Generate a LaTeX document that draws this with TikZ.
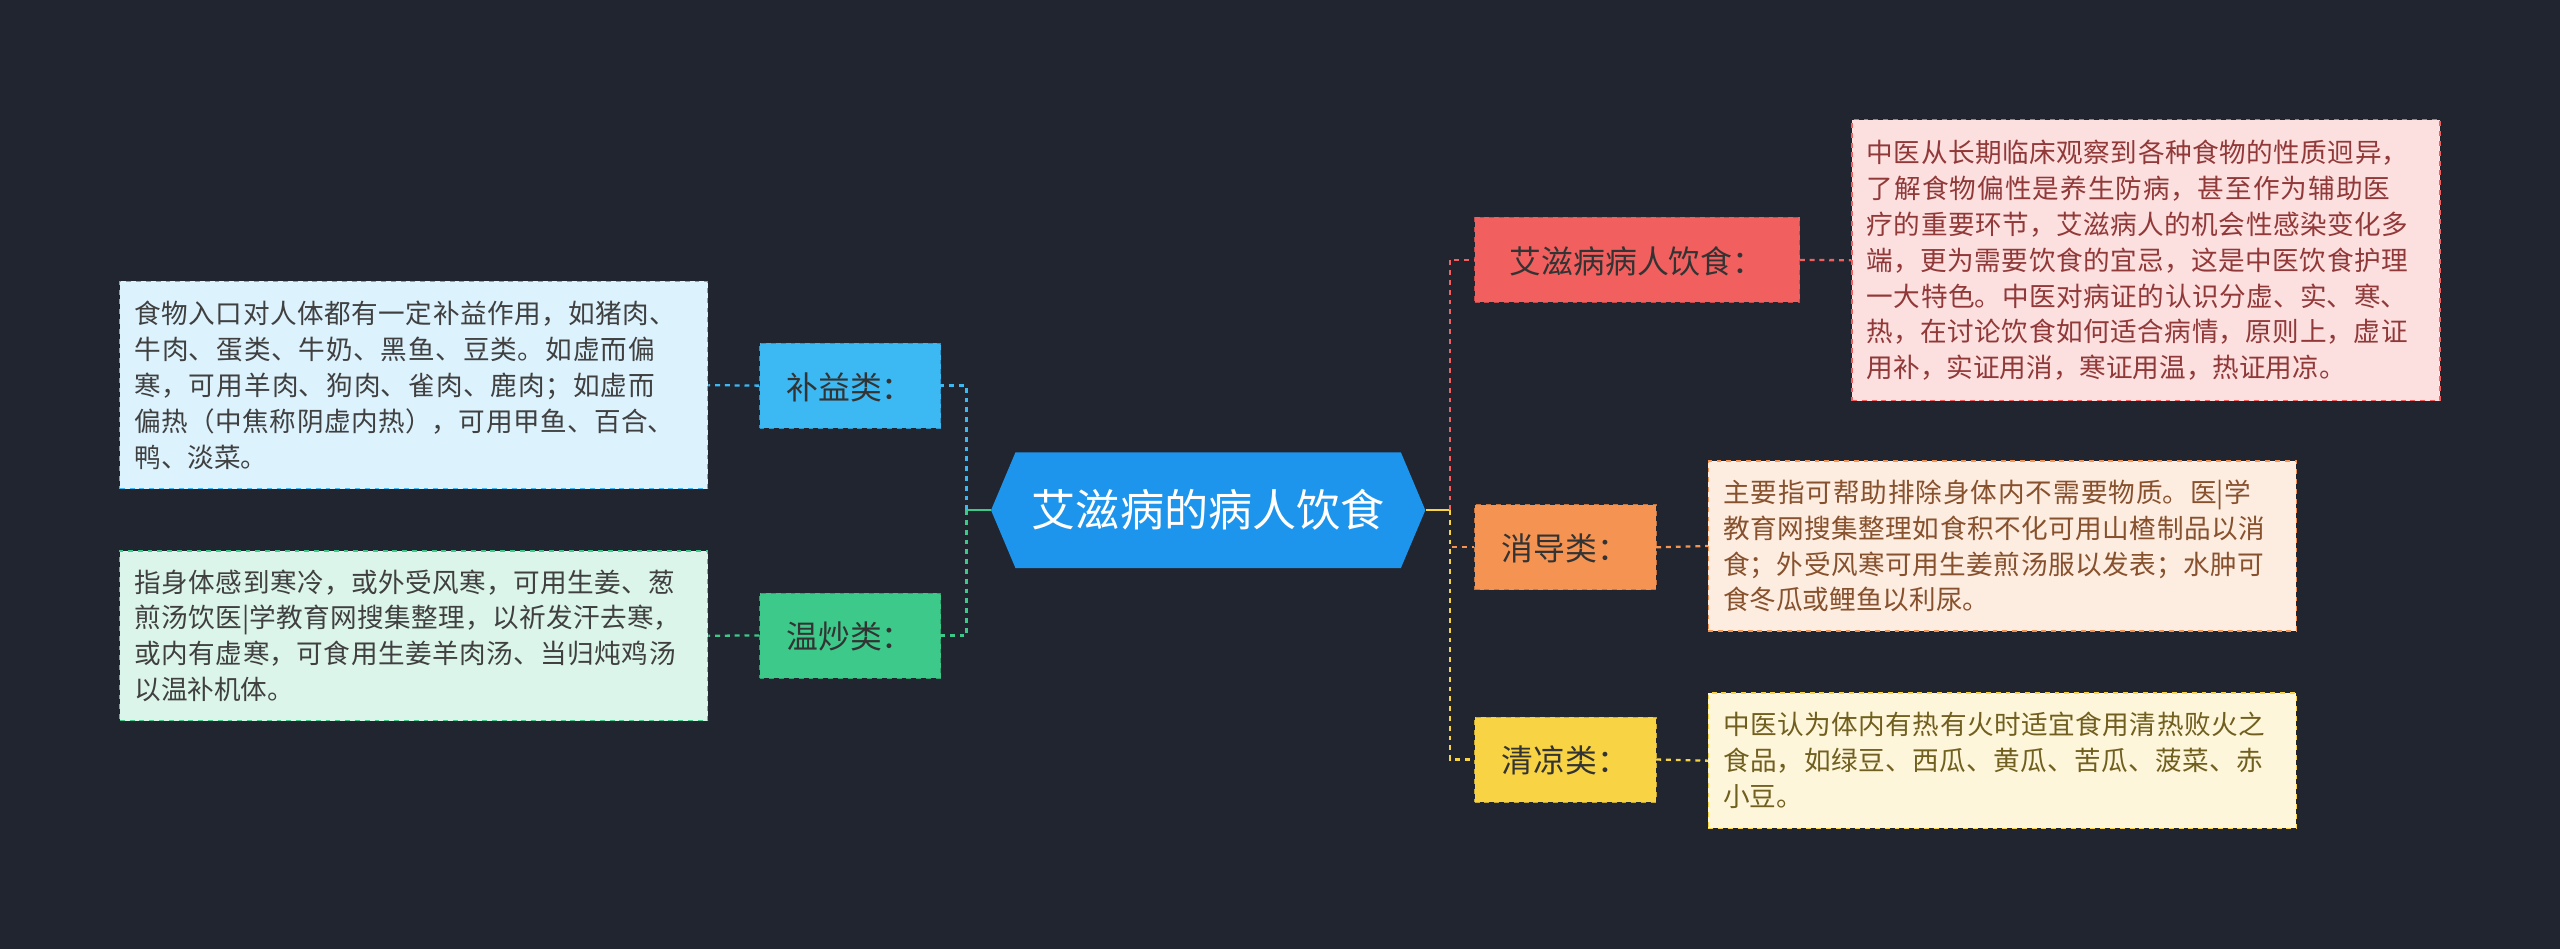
\documentclass[tikz,border=0pt]{standalone}
\usepackage{fontspec}
\setmainfont{Noto Sans CJK SC}
\XeTeXlinebreaklocale "zh"
\XeTeXlinebreakskip=0pt plus 1pt
\begin{document}
\begin{tikzpicture}[x=1pt,y=-1pt,
 topic/.style={draw=#1!80!black,dashed,fill=#1,minimum height=52pt,inner xsep=11pt,inner ysep=0pt,font=\fontsize{19.5}{22}\selectfont,text=black!80,anchor=north west,text depth=0pt},
 txt/.style={draw=#1,dashed,line width=0.8pt,inner xsep=9pt,inner ysep=8pt,anchor=north west,align=left,font=\fontsize{16.3}{22}\selectfont},
 con/.style={draw=#1,dashed,line width=1.4pt}]
\definecolor{bg}{HTML}{212530}
\definecolor{cb}{HTML}{1E95EC}
\definecolor{lb}{HTML}{3CB8F2}\definecolor{lg}{HTML}{3CC98A}
\definecolor{rr}{HTML}{F25F5F}\definecolor{oo}{HTML}{F59452}\definecolor{yy}{HTML}{F8D444}
\fill[bg] (0,0) rectangle (1568,581);
\useasboundingbox (0,0) rectangle (1568,581);
% center
\fill[cb] (622,277) -- (858,277) -- (873,312.5) -- (858,348) -- (622,348) -- (607,312.5) -- cycle;
\node[inner sep=0pt,minimum width=266pt,minimum height=71pt] (c) at (740,312.5) {\fontsize{27}{30}\selectfont\color{white}艾滋病的病人饮食};
% topics
\node[topic=lb,minimum width=111pt] (t1) at (465,210) {补益类：};
\node[topic=lg,minimum width=111pt] (t2) at (465,363) {温炒类：};
\node[topic=rr,minimum width=199pt] (t3) at (903,133) {艾滋病病人饮食：};
\node[topic=oo,minimum width=111pt] (t4) at (903,309) {消导类：};
\node[topic=yy,minimum width=111pt] (t5) at (903,439) {清凉类：};
% texts
\node[txt=lb,fill=lb!18,text=black!75,text width=342pt,minimum height=127pt] (x1) at (73,172) {食物入口对人体都有一定补益作用，如猪肉、牛肉、蛋类、牛奶、黑鱼、豆类。如虚而偏寒，可用羊肉、狗肉、雀肉、鹿肉；如虚而偏热（中焦称阴虚内热），可用甲鱼、百合、鸭、淡菜。};
\node[txt=lg,fill=lg!18,text=black!75,text width=342pt,minimum height=104pt] (x2) at (73,337) {指身体感到寒冷，或外受风寒，可用生姜、葱煎汤饮医|学教育网搜集整理，以祈发汗去寒，或内有虚寒，可食用生姜羊肉汤、当归炖鸡汤以温补机体。};
\node[txt=rr,fill=rr!20,text=rr!60!black,text width=342pt,minimum height=172pt] (x3) at (1134,73) {中医从长期临床观察到各种食物的性质迥异，了解食物偏性是养生防病，甚至作为辅助医疗的重要环节，艾滋病人的机会性感染变化多端，更为需要饮食的宜忌，这是中医饮食护理一大特色。中医对病证的认识分虚、实、寒、热，在讨论饮食如何适合病情，原则上，虚证用补，实证用消，寒证用温，热证用凉。};
\node[txt=oo,fill=oo!18,text=oo!55!black,text width=342pt,minimum height=104pt] (x4) at (1046,282) {主要指可帮助排除身体内不需要物质。医|学教育网搜集整理如食积不化可用山楂制品以消食；外受风寒可用生姜煎汤服以发表；水肿可食冬瓜或鲤鱼以利尿。};
\node[txt=yy,fill=yy!20,text=yy!45!black,text width=342pt,minimum height=83pt] (x5) at (1046,424) {中医认为体内有热有火时适宜食用清热败火之食品，如绿豆、西瓜、黄瓜、苦瓜、菠菜、赤小豆。};
% connectors
\coordinate (lj) at (592,312.5); \coordinate (rj) at (888,312.5);
\draw[con=lg,solid] (c.west) -- (lj);
\draw[con=lb] (lj) |- (t1.east);
\draw[con=lg] (lj) |- (t2.east);
\draw[con=yy,solid] (c.east) -- (rj);
\draw[con=rr] (rj) |- (t3.west);
\draw[con=oo] (rj) |- (t4.west);
\draw[con=yy] (rj) |- (t5.west);
\draw[con=lb] (t1.west) -- (x1.east);
\draw[con=lg] (t2.west) -- (x2.east);
\draw[con=rr] (t3.east) -- (x3.west);
\draw[con=oo] (t4.east) -- (x4.west);
\draw[con=yy] (t5.east) -- (x5.west);
\end{tikzpicture}
\end{document}
